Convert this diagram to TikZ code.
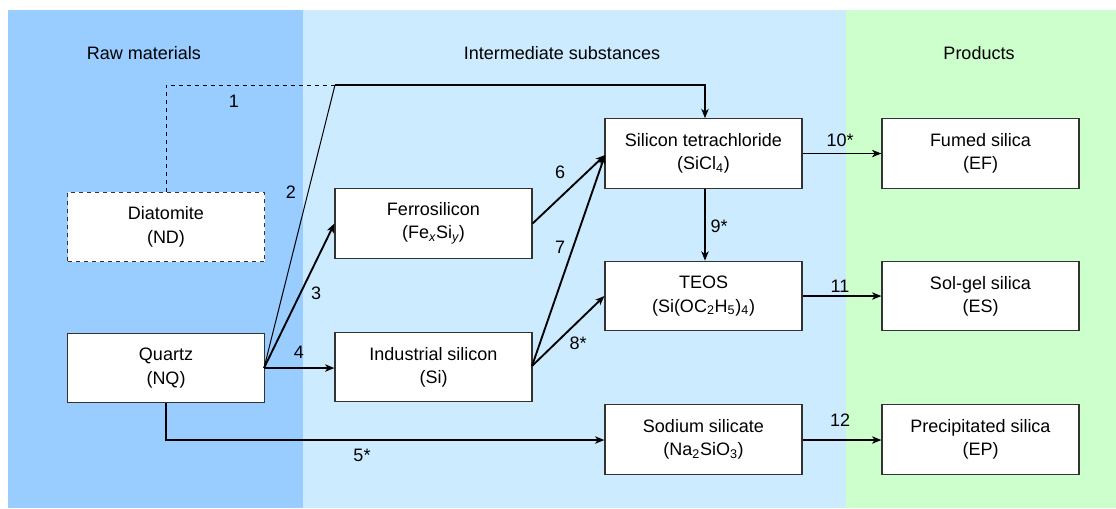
\documentclass[tikz,border=0pt]{standalone}
\usepackage{fontspec}
\setmainfont{Liberation Sans}
\usetikzlibrary{arrows.meta}
\definecolor{rawc}{HTML}{99CCFF}
\definecolor{intc}{HTML}{CCEBFF}
\definecolor{proc}{HTML}{CCFFCC}
\definecolor{bord}{HTML}{333333}
\newcommand{\sbs}[1]{\textsubscript{#1}}
\begin{document}
\begin{tikzpicture}[x=0.75pt,y=-0.75pt,
  every node/.style={font=\fontsize{13.5pt}{17.5pt}\selectfont},
  box/.style={draw=bord,line width=0.9pt,fill=white,minimum width=147.75pt,minimum height=52pt,inner sep=0pt,align=center},
  dbox/.style={box,dashed},
  conn/.style={line width=1.4pt,-{Stealth[length=7pt,width=5.5pt,inset=2pt]}},
  plain/.style={line width=1.4pt},
  thin/.style={line width=0.75pt},
  lbl/.style={inner sep=0pt},
  head/.style={inner sep=0pt}]
\useasboundingbox (0,0) rectangle (1116,508);
\fill[white] (0,0) rectangle (1116,508);
\fill[rawc] (8,10) rectangle (303,508);
\fill[intc] (303,10) rectangle (846,508);
\fill[proc] (846,10) rectangle (1116,508);
\node[head] (hraw) at (144,53) {Raw materials};
\node[head] (hint) at (562,53) {Intermediate substances};
\node[head] (hpro) at (979,53) {Products};
% boxes
\node[dbox] (dia) at (166,227) {Diatomite\\(ND)};
\node[box] (qua) at (166,368) {Quartz\\(NQ)};
\node[box] (fer) at (433.5,223.5) {Ferrosilicon\\(Fe\sbs{\itshape x}Si\sbs{\itshape y})};
\node[box] (ind) at (433.5,367) {Industrial silicon\\(Si)};
\node[box] (sic) at (703.5,153.5) {Silicon tetrachloride\\(SiCl\sbs{4})};
\node[box] (teo) at (703.5,296) {TEOS\\(Si(OC\sbs{2}H\sbs{5})\sbs{4})};
\node[box] (sod) at (703.5,439.5) {Sodium silicate\\(Na\sbs{2}SiO\sbs{3})};
\node[box] (fum) at (980.5,153.5) {Fumed silica\\(EF)};
\node[box] (sol) at (980.5,296) {Sol-gel silica\\(ES)};
\node[box] (pre) at (980.5,439.5) {Precipitated silica\\(EP)};
% coordinates
\coordinate (qout) at (264,368);
\coordinate (top) at (335,85);
\coordinate (topr) at (705,85);
\coordinate (ftop) at (166,85);
\coordinate (sicin) at (605,155);
\coordinate (indout) at (532,366);
\coordinate (bot) at (166,440);
% connectors
\draw[thin,dashed] (dia.north) -- (ftop) -- (top);
\draw[thin] (qout) -- (top);
\draw[conn] (top) -- (topr) -- (sic.north -| topr);
\draw[conn] (qout) -- (fer.west);
\draw[conn] (qout) -- (ind.west |- qout);
\draw[conn] (qua.south) -- (bot) -- (sod.west |- bot);
\draw[conn] (fer.east) -- (sicin);
\draw[conn] (indout) -- (sicin);
\draw[conn] (indout) -- (teo.west);
\draw[conn] (sic.south -| topr) -- (teo.north -| topr);
\draw[conn] (sic.east) -- (fum.west);
\draw[conn] (teo.east) -- (sol.west);
\draw[conn] (sod.east |- bot) -- (pre.west |- bot);
% labels
\node[lbl] (l1) at (234,101) {1};
\node[lbl] (l2) at (291,192) {2};
\node[lbl] (l3) at (316,293) {3};
\node[lbl] (l4) at (299,352) {4};
\node[lbl] (l5) at (362,455) {5*};
\node[lbl] (l6) at (560,172) {6};
\node[lbl] (l7) at (560,247) {7};
\node[lbl] (l8) at (578,343) {8*};
\node[lbl] (l9) at (719,226) {9*};
\node[lbl] (l10) at (840,140) {10*};
\node[lbl] (l11) at (840,286) {11};
\node[lbl] (l12) at (840,420) {12};
\end{tikzpicture}
\end{document}
